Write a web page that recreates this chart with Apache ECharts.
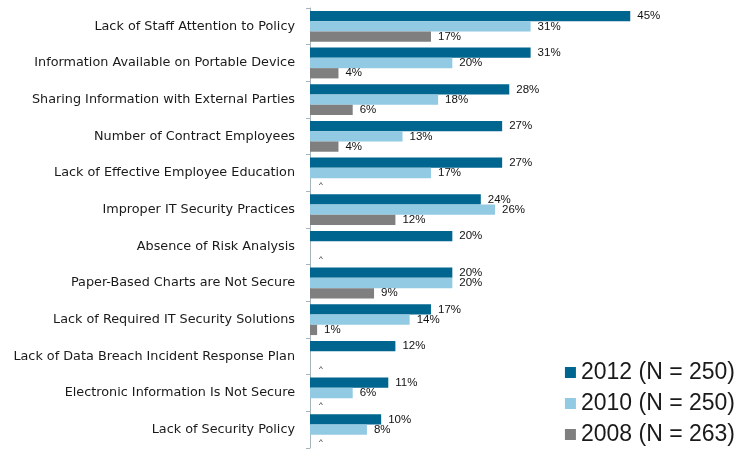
<!DOCTYPE html>
<html><head><meta charset="utf-8">
<script src="https://cdn.jsdelivr.net/npm/echarts@6/dist/echarts.min.js"></script>
<style>html,body{margin:0;padding:0;background:#fff}#c{width:740px;height:455px}</style>
</head><body><div id="c"></div>
<script>
const categories = [
  "Lack of Staff Attention to Policy",
  "Information Available on Portable Device",
  "Sharing Information with External Parties",
  "Number of Contract Employees",
  "Lack of Effective Employee Education",
  "Improper IT Security Practices",
  "Absence of Risk Analysis",
  "Paper-Based Charts are Not Secure",
  "Lack of Required IT Security Solutions",
  "Lack of Data Breach Incident Response Plan",
  "Electronic Information Is Not Secure",
  "Lack of Security Policy"
];
const s2012 = [45, 31, 28, 27, 27, 24, 20, 20, 17, 12, 11, 10];
const s2010 = [31, 20, 18, 13, 17, 26, null, 20, 14, null, 6, 8];
const s2008 = [17, 4, 6, 4, null, 12, null, 9, 1, null, null, null];
const seriesNames = ["2012 (N = 250)", "2010 (N = 250)", "2008 (N = 263)"];
const colors = ["#00668f", "#93cae3", "#7f7f7f"];

function mk(arr, showCaret) {
  return arr.map(v => v === null
    ? (showCaret ? {value: 0, label: {show: true, formatter: '^', fontSize: 8, offset: [2, 2]}} : {value: 0, label: {show: false}})
    : v);
}
const lbl = {show: true, position: 'right', distance: 7, formatter: p => p.value + '%',
  fontFamily: 'Liberation Sans, Arial, sans-serif', fontSize: 11.5, color: '#111'};

const chart = echarts.init(document.getElementById('c'));
chart.setOption({
  animation: false,
  textStyle: {fontFamily: 'Liberation Sans, Arial, sans-serif'},
  grid: {left: 310, top: 8, width: 427, bottom: 7, containLabel: false},
  xAxis: {type: 'value', min: 0, max: 60, show: false},
  yAxis: {type: 'category', data: categories, inverse: true,
    axisLine: {lineStyle: {color: '#a8b4bc'}},
    axisTick: {show: true, length: 4, lineStyle: {color: '#a8b4bc'}},
    axisLabel: {fontSize: 12.8, fontFamily: 'DejaVu Sans', color: '#1a1a1a', margin: 15}},
  legend: {orient: 'vertical', right: 0, bottom: 4, itemWidth: 11, itemHeight: 11, itemGap: 8,
    textStyle: {fontSize: 23, color: '#1a1a1a'}, data: seriesNames, icon: 'rect'},
  series: [
    {name: seriesNames[0], type: 'bar', data: mk(s2012, false), itemStyle: {color: colors[0]}, barGap: '0%', barCategoryGap: '16%', label: lbl},
    {name: seriesNames[1], type: 'bar', data: mk(s2010, false), itemStyle: {color: colors[1]}, barGap: '0%', barCategoryGap: '16%', label: lbl},
    {name: seriesNames[2], type: 'bar', data: mk(s2008, true), itemStyle: {color: colors[2]}, barGap: '0%', barCategoryGap: '16%', label: lbl}
  ]
});
</script></body></html>
